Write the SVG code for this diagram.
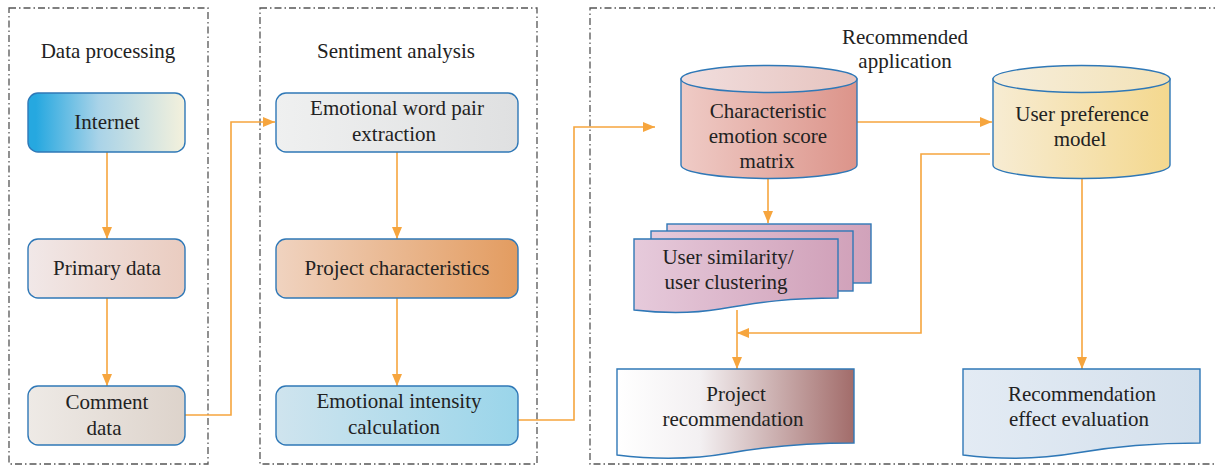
<svg xmlns="http://www.w3.org/2000/svg" width="1215" height="466" viewBox="0 0 1215 466">
<defs>
<linearGradient id="gInternet" x1="0" y1="0" x2="1" y2="0">
<stop offset="0.05" stop-color="#26a8e0"/><stop offset="0.45" stop-color="#a9d3e8"/><stop offset="1" stop-color="#f4f1dc"/>
</linearGradient>
<linearGradient id="gPrimary" x1="0" y1="0" x2="1" y2="0">
<stop offset="0" stop-color="#f1e8e8"/><stop offset="1" stop-color="#eaccc0"/>
</linearGradient>
<linearGradient id="gComment" x1="0" y1="0" x2="1" y2="0">
<stop offset="0" stop-color="#eeeae6"/><stop offset="1" stop-color="#ddd3cb"/>
</linearGradient>
<linearGradient id="gWord" x1="0" y1="0" x2="1" y2="0">
<stop offset="0" stop-color="#eff0f0"/><stop offset="1" stop-color="#dfe0e1"/>
</linearGradient>
<linearGradient id="gProj" x1="0" y1="0" x2="1" y2="0">
<stop offset="0" stop-color="#f0d3c0"/><stop offset="1" stop-color="#e39c60"/>
</linearGradient>
<linearGradient id="gInt" x1="0" y1="0" x2="1" y2="0">
<stop offset="0" stop-color="#cfe4ee"/><stop offset="1" stop-color="#9ad5ea"/>
</linearGradient>
<linearGradient id="gCyl1" x1="0" y1="0" x2="1" y2="0">
<stop offset="0" stop-color="#efcbc6"/><stop offset="1" stop-color="#dc948a"/>
</linearGradient>
<linearGradient id="gCyl1top" x1="0" y1="0" x2="1" y2="0">
<stop offset="0" stop-color="#f1dede"/><stop offset="1" stop-color="#e6c3be"/>
</linearGradient>
<linearGradient id="gCyl2" x1="0" y1="0" x2="1" y2="0">
<stop offset="0" stop-color="#f7ecd3"/><stop offset="1" stop-color="#f4d88e"/>
</linearGradient>
<linearGradient id="gCyl2top" x1="0" y1="0" x2="1" y2="0">
<stop offset="0" stop-color="#f6eedc"/><stop offset="1" stop-color="#f3e2b6"/>
</linearGradient>
<linearGradient id="gStack" x1="0" y1="0" x2="1" y2="0">
<stop offset="0" stop-color="#e6cadb"/><stop offset="1" stop-color="#d1a2ba"/>
</linearGradient>
<linearGradient id="gRec" x1="0" y1="0" x2="1" y2="0">
<stop offset="0" stop-color="#ffffff"/><stop offset="0.35" stop-color="#f3f0f2"/><stop offset="1" stop-color="#a26c6a"/>
</linearGradient>
<linearGradient id="gEval" x1="0" y1="0" x2="1" y2="0">
<stop offset="0" stop-color="#e3ebf4"/><stop offset="1" stop-color="#d4e0ec"/>
</linearGradient>
<marker id="arr" viewBox="0 0 12 10" refX="12" refY="5" markerWidth="12" markerHeight="10" markerUnits="userSpaceOnUse" orient="auto">
<path d="M0,0 L12,5 L0,10 Z" fill="#f6a53e"/>
</marker>
</defs>
<style>
.frame{fill:none;stroke:#555;stroke-width:1.3;stroke-dasharray:7,3,1.5,3}
.box{stroke:#2f78b7;stroke-width:1.4}
text{font-family:'Liberation Serif','Times New Roman',Times,'DejaVu Serif',serif;font-size:21px;fill:#222;text-anchor:middle}
.c{fill:none;stroke:#f6a53e;stroke-width:1.6}
</style>
<rect width="1215" height="466" fill="#fff"/>

<g id="frames">
<rect class="frame" x="9" y="8" width="199" height="456"/>
<rect class="frame" x="260" y="8" width="277" height="456"/>
<rect class="frame" x="590" y="8" width="640" height="456"/>
</g>

<g id="labels">
<text x="108" y="58">Data processing</text>
<text x="396" y="58">Sentiment analysis</text>
<text x="905" y="44">Recommended</text>
<text x="905" y="68">application</text>
</g>

<g id="connectors">
<line class="c" x1="107" y1="152" x2="107" y2="239" marker-end="url(#arr)"/>
<line class="c" x1="107" y1="298" x2="107" y2="386" marker-end="url(#arr)"/>
<polyline class="c" points="185,415 231,415 231,122 275,122" marker-end="url(#arr)"/>
<line class="c" x1="397" y1="152" x2="397" y2="239" marker-end="url(#arr)"/>
<line class="c" x1="397" y1="298" x2="397" y2="386" marker-end="url(#arr)"/>
<polyline class="c" points="493,420 574,420 574,127 655,127" marker-end="url(#arr)"/>
<line class="c" x1="857" y1="122" x2="992" y2="122" marker-end="url(#arr)"/>
<line class="c" x1="768" y1="178" x2="768" y2="223" marker-end="url(#arr)"/>
<polyline class="c" points="990,154 921,154 921,333 737,333" marker-end="url(#arr)"/>
<line class="c" x1="737" y1="310" x2="737" y2="369" marker-end="url(#arr)"/>
<line class="c" x1="1082" y1="178" x2="1082" y2="369" marker-end="url(#arr)"/>
</g>

<g id="internet">
<rect class="box" x="28" y="93" width="157" height="59" rx="10" fill="url(#gInternet)"/>
<text x="107" y="129">Internet</text>
</g>
<g id="primary-data">
<rect class="box" x="28" y="239" width="157" height="59" rx="10" fill="url(#gPrimary)"/>
<text x="107" y="275">Primary data</text>
</g>
<g id="comment-data">
<rect class="box" x="28" y="386" width="157" height="59" rx="10" fill="url(#gComment)"/>
<text x="107" y="409">Comment</text>
<text x="104" y="435">data</text>
</g>

<g id="word-pair">
<rect class="box" x="276" y="93" width="242" height="59" rx="10" fill="url(#gWord)"/>
<text x="397" y="115">Emotional word pair</text>
<text x="394" y="141">extraction</text>
</g>
<g id="project-characteristics">
<rect class="box" x="276" y="239" width="242" height="59" rx="10" fill="url(#gProj)"/>
<text x="397" y="275">Project characteristics</text>
</g>
<g id="intensity">
<rect class="box" x="276" y="386" width="242" height="59" rx="10" fill="url(#gInt)"/>
<text x="399" y="408">Emotional intensity</text>
<text x="394" y="434">calculation</text>
</g>

<g id="score-matrix">
<path class="box" d="M681,79 L681,165 A88,13.5 0 0 0 857,165 L857,79 Z" fill="url(#gCyl1)"/>
<ellipse class="box" cx="769" cy="79" rx="88" ry="13.5" fill="url(#gCyl1top)"/>
<text x="768" y="118">Characteristic</text>
<text x="768" y="143">emotion score</text>
<text x="767" y="168">matrix</text>
</g>

<g id="user-preference">
<path class="box" d="M993,79 L993,165 A88.5,13.5 0 0 0 1170,165 L1170,79 Z" fill="url(#gCyl2)"/>
<ellipse class="box" cx="1081.5" cy="79" rx="88.5" ry="13.5" fill="url(#gCyl2top)"/>
<text x="1082" y="121">User preference</text>
<text x="1080" y="146">model</text>
</g>

<g id="user-similarity">
<rect class="box" x="667" y="224" width="204" height="59" fill="url(#gStack)"/>
<rect class="box" x="651" y="231" width="202" height="60" fill="url(#gStack)"/>
<path class="box" d="M634,239 L838,239 L838,298 C790,298 760,302 720,309 C690,314 660,313 634,310 Z" fill="url(#gStack)"/>
<text x="728" y="264">User similarity/</text>
<text x="726" y="289">user clustering</text>
</g>

<g id="project-recommendation">
<path class="box" d="M617,369 L854,369 L854,443 C810,443 770,446 730,453 C690,460 650,459 617,455 Z" fill="url(#gRec)"/>
<text x="736" y="401">Project</text>
<text x="733" y="426">recommendation</text>
</g>

<g id="effect-evaluation">
<path class="box" d="M963,369 L1200,369 L1200,443 C1156,443 1116,446 1076,453 C1036,460 996,459 963,455 Z" fill="url(#gEval)"/>
<text x="1082" y="401">Recommendation</text>
<text x="1079" y="426">effect evaluation</text>
</g>
</svg>
